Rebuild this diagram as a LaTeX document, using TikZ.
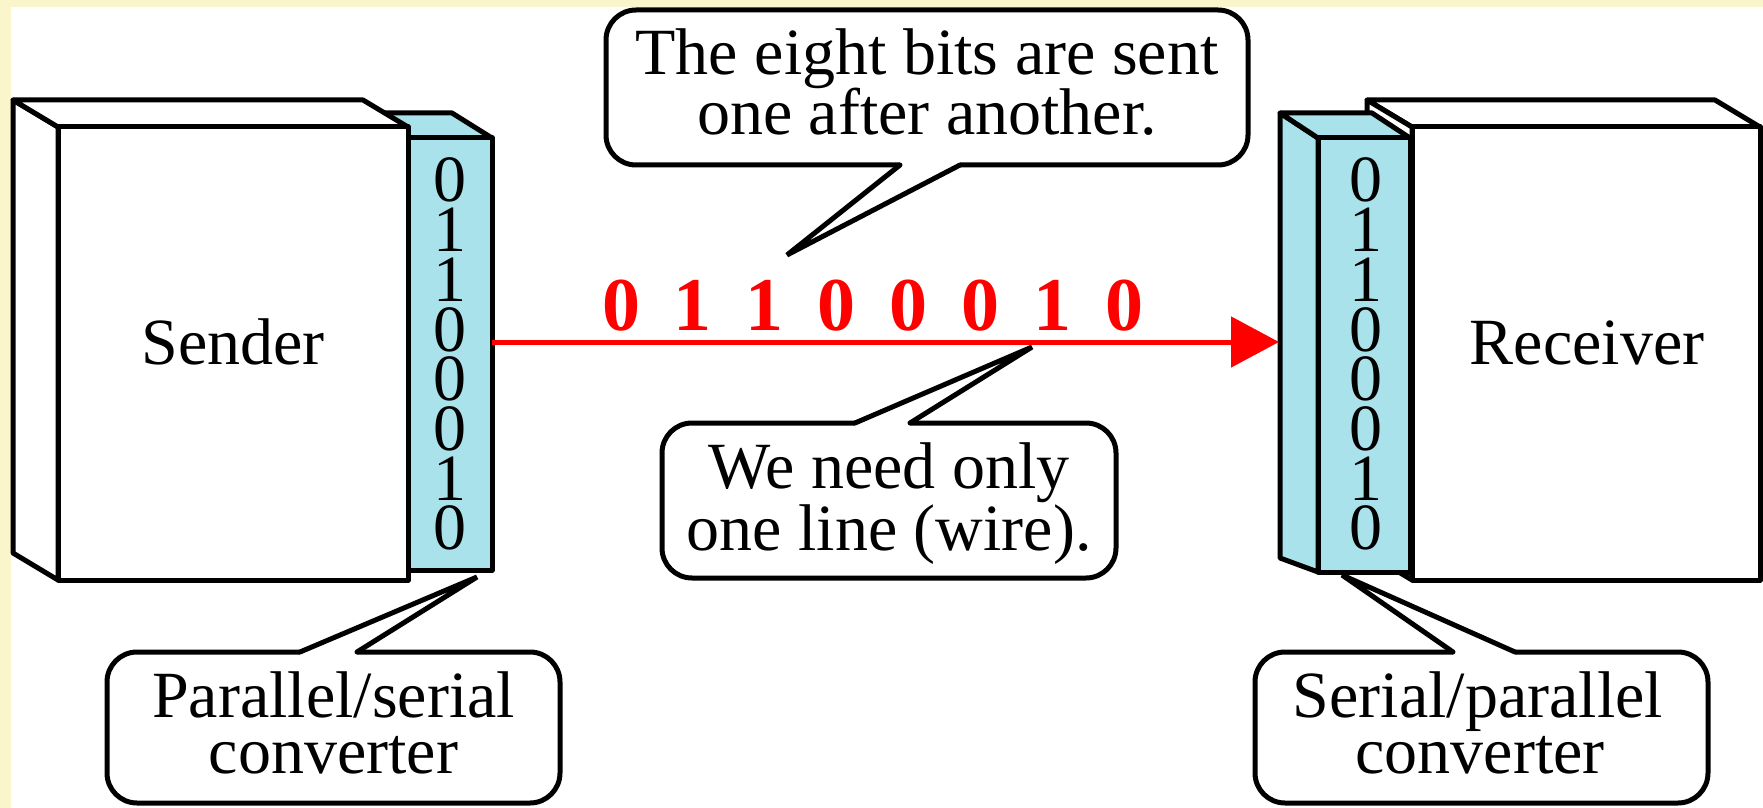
\documentclass[tikz,border=0pt]{standalone}
\usepackage{fontspec}
\setmainfont{Liberation Serif}
\usetikzlibrary{arrows.meta,calc}
\definecolor{bgyellow}{RGB}{250,245,202}
\definecolor{convblue}{RGB}{170,226,236}
\definecolor{bitred}{RGB}{255,0,0}
\tikzset{
  outline/.style={draw=black, line width=2.5pt, line join=round},
  whiteface/.style={outline, fill=white},
  blueface/.style={outline, fill=convblue},
  facebox/.style={inner sep=0pt, outer sep=0pt},
  bubble/.style={draw=black, line width=2.5pt, fill=white, rounded corners=15pt, inner sep=0pt, outer sep=0pt},
  tailline/.style={draw=black, line width=2.5pt, line cap=round, line join=miter},
  txt/.style={font=\fontsize{33}{36}\selectfont, inner sep=0pt, anchor=base},
  boxbit/.style={font=\fontsize{33}{36}\selectfont, inner sep=0pt, anchor=base, text height=22pt, text depth=0pt},
  redbit/.style={font=\fontsize{38}{40}\selectfont\bfseries, text=bitred, inner sep=0pt, anchor=base},
  wire/.style={draw=bitred, line width=2.5pt, -{Triangle[length=24pt,width=25pt]}},
}
\begin{document}
\begin{tikzpicture}[x=0.5pt,y=-0.5pt]
\useasboundingbox (0,0) rectangle (1763,808);
% background
\fill[bgyellow] (0,0) rectangle (1763,808);
\fill[white] (11,7) rectangle (1763,808);

% ---------- sender converter (behind sender) ----------
\draw[blueface] (368,113) -- (452,113) -- (492,138) -- (408,138) -- cycle;
\node[blueface, facebox, minimum width=42pt, minimum height=216pt] (sconv) at (450,354) {};

% ---------- sender ----------
\draw[whiteface] (13,100) -- (58,127) -- (58,580) -- (13,553) -- cycle;
\draw[whiteface] (13,100) -- (363,100) -- (408,127) -- (58,127) -- cycle;
\node[whiteface, facebox, minimum width=175pt, minimum height=226.5pt] (sender) at (233,353.5) {};
\node[txt] (senderlbl) at (233,364) {Sender};

% ---------- receiver ----------
\draw[whiteface] (1367,100) -- (1715,100) -- (1760,127) -- (1412,127) -- cycle;
\draw[whiteface] (1367,100) -- (1412,127) -- (1412,580) -- (1367,553) -- cycle;
\node[whiteface, facebox, minimum width=174pt, minimum height=226.5pt] (receiver) at (1586,353.5) {};
\node[txt] (receiverlbl) at (1587,364) {Receiver};

% ---------- receiver converter (in front) ----------
\draw[blueface] (1280,113) -- (1318,138) -- (1318,572) -- (1280,558) -- cycle;
\draw[blueface] (1280,113) -- (1372,113) -- (1410,138) -- (1318,138) -- cycle;
\node[blueface, facebox, minimum width=46pt, minimum height=217pt] (rconv) at (1364,355) {};

% bits in the converters
\foreach \b [count=\i from 0] in {0,1,1,0,0,0,1,0} {
  \node[boxbit] (sb\i) at (450,{202+49.7*\i}) {\b};
  \node[boxbit] (rb\i) at (1366,{202+49.7*\i}) {\b};
}

% ---------- wire ----------
\coordinate (wirestart) at (492,342);
\coordinate (wireend) at (1279,342);
\draw[wire] (wirestart) -- (wireend);
\foreach \b [count=\i from 0] in {0,1,1,0,0,0,1,0} {
  \node[redbit] (wb\i) at ({621+71.9*\i},330) {\b};
}

% ---------- callout: top ----------
\node[bubble, minimum width=321pt, minimum height=77.5pt] (ctop) at (927,87.5) {};
\coordinate (ctopA) at ($(ctop.south)+(-27,0)$);
\coordinate (ctopB) at ($(ctop.south)+(33,0)$);
\coordinate (ctoptip) at (787,255);
\fill[white] (ctopA) -- (ctoptip) -- (ctopB) -- ($(ctopB)+(0,-6)$) -- ($(ctopA)+(0,-6)$) -- cycle;
\draw[tailline] (ctopA) -- (ctoptip) -- (ctopB);
\node[txt] (ctop1) at (927,75) {The eight bits are sent};
\node[txt] (ctop2) at (927,135) {one after another.};

% ---------- callout: middle ----------
\node[bubble, minimum width=227pt, minimum height=77.5pt] (cmid) at (889,500.5) {};
\coordinate (cmidA) at ($(cmid.north)+(-34,0)$);
\coordinate (cmidB) at ($(cmid.north)+(21,0)$);
\coordinate (cmidtip) at (1032,347);
\fill[white] (cmidA) -- (cmidtip) -- (cmidB) -- ($(cmidB)+(0,6)$) -- ($(cmidA)+(0,6)$) -- cycle;
\draw[tailline] (cmidA) -- (cmidtip) -- (cmidB);
\node[txt] (cmid1) at (889,488) {We need only};
\node[txt] (cmid2) at (889,550) {one line (wire).};

% ---------- callout: bottom left ----------
\node[bubble, minimum width=226.5pt, minimum height=75.5pt] (cleft) at (333.5,727.5) {};
\coordinate (cleftA) at ($(cleft.north)+(-33.5,0)$);
\coordinate (cleftB) at ($(cleft.north)+(23.5,0)$);
\coordinate (clefttip) at (477,577);
\fill[white] (cleftA) -- (clefttip) -- (cleftB) -- ($(cleftB)+(0,6)$) -- ($(cleftA)+(0,6)$) -- cycle;
\draw[tailline] (cleftA) -- (clefttip) -- (cleftB);
\node[txt] (cleft1) at (333.5,717) {Parallel/serial};
\node[txt] (cleft2) at (333.5,773) {converter};

% ---------- callout: bottom right ----------
\node[bubble, minimum width=226.5pt, minimum height=75.5pt] (cright) at (1481.5,727.5) {};
\coordinate (crightA) at ($(cright.north)+(-28.5,0)$);
\coordinate (crightB) at ($(cright.north)+(33.5,0)$);
\coordinate (crighttip) at (1342,575);
\fill[white] (crightA) -- (crighttip) -- (crightB) -- ($(crightB)+(0,6)$) -- ($(crightA)+(0,6)$) -- cycle;
\draw[tailline] (crightA) -- (crighttip) -- (crightB);
\node[txt] (cright1) at (1478,717) {Serial/parallel};
\node[txt] (cright2) at (1480,773) {converter};
\end{tikzpicture}
\end{document}
